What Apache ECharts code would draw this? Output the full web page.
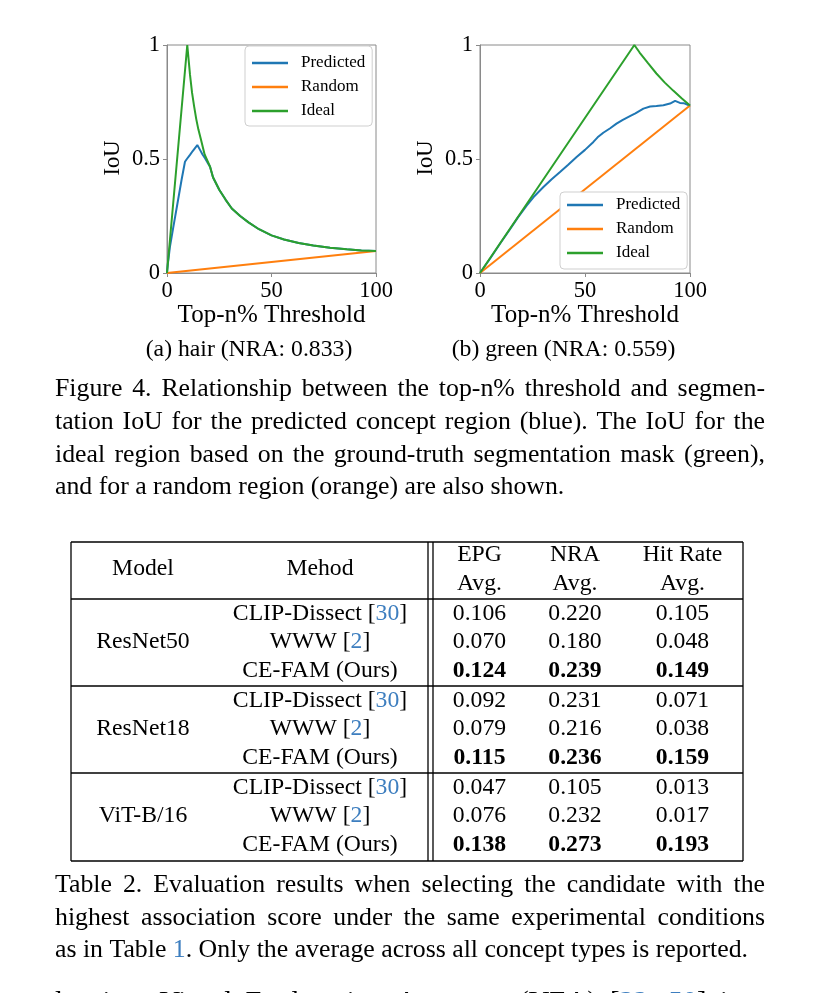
<!DOCTYPE html>
<html>
<head>
<meta charset="utf-8">
<script src="https://cdn.jsdelivr.net/npm/echarts@6.0.0/dist/echarts.min.js"></script>
<style>
  html, body { margin: 0; padding: 0; background: #fff; }
  #main { width: 820px; height: 993px; }
</style>
</head>
<body>
<div id="main"></div>
<script>
// ---------------- DATA ----------------
const seriesNames = ['Predicted', 'Random', 'Ideal'];
const xTicks = [0, 50, 100];
const yTicks = [0, 0.5, 1];

// (a) hair
const hairPredicted = [[0,0],[0.4,0.04],[1.4,0.115],[3,0.2],[5,0.305],[7,0.41],[8.6,0.488],[9.5,0.5],[11,0.518],[12.3,0.535],[13.4,0.548],[14.5,0.561],[15.2,0.553],[15.8,0.54],[17,0.52],[18.2,0.503],[19.5,0.483],[20.6,0.466],[22,0.42],[25,0.365],[28,0.322],[31,0.283],[35,0.25],[39,0.222],[44,0.192],[50,0.165],[56,0.147],[63,0.132],[70,0.121],[78,0.111],[86,0.104],[93,0.099],[100,0.096]];
const hairRandom = [[0,0],[100,0.096]];
const hairIdeal = [[0,0],[9.7,1.0],[11,0.87],[12,0.79],[13,0.73],[14,0.675],[15,0.63],[16.3,0.583],[18,0.52],[20.6,0.466],[22,0.42],[25,0.365],[28,0.322],[31,0.283],[35,0.25],[39,0.222],[44,0.192],[50,0.165],[56,0.147],[63,0.132],[70,0.121],[78,0.111],[86,0.104],[93,0.099],[100,0.096]];

// (b) green
const greenPredicted = [[0,0],[5,0.066],[10,0.135],[14.3,0.192],[18,0.243],[22.2,0.295],[26,0.338],[30.2,0.377],[34,0.41],[38.1,0.443],[42,0.475],[46,0.509],[50,0.54],[54,0.575],[56,0.595],[58.7,0.615],[62,0.635],[65,0.655],[68,0.672],[71.4,0.688],[74,0.7],[77.8,0.721],[81,0.73],[84,0.732],[87.3,0.736],[90.5,0.743],[92.9,0.755],[95.2,0.746],[97,0.745],[100,0.733]];
const greenRandom = [[0,0],[100,0.735]];
const greenIdeal = [[0,0],[73.5,1.0],[76,0.967],[80,0.92],[84,0.875],[88,0.835],[92,0.8],[96,0.766],[100,0.735]];

// Table 2
const tableModels = ['ResNet50', 'ResNet18', 'ViT-B/16'];
const tableMethods = ['CLIP-Dissect [{c|30}]', 'WWW [{c|2}]', 'CE-FAM (Ours)'];
const tableHeaders = [['EPG', 'Avg.'], ['NRA', 'Avg.'], ['Hit Rate', 'Avg.']];
const epgAvg = [[0.106, 0.070, 0.124], [0.092, 0.079, 0.115], [0.047, 0.076, 0.138]];
const nraAvg = [[0.220, 0.180, 0.239], [0.231, 0.216, 0.236], [0.105, 0.232, 0.273]];
const hitAvg = [[0.105, 0.048, 0.149], [0.071, 0.038, 0.159], [0.013, 0.017, 0.193]];

const figCaption = [
  {text: 'Figure 4. Relationship between the top-n% threshold and segmen-', justify: true},
  {text: 'tation IoU for the predicted concept region (blue). The IoU for the', justify: true},
  {text: 'ideal region based on the ground-truth segmentation mask (green),', justify: true},
  {text: 'and for a random region (orange) are also shown.', justify: false}
];
const tableCaption = [
  {text: 'Table 2. Evaluation results when selecting the candidate with the', justify: true},
  {text: 'highest association score under the same experimental conditions', justify: true},
  {text: 'as in Table {c|1}. Only the average across all concept types is reported.', justify: false}
];
const bodyLine = [
  {text: 'lencing. Visual Explanation Accuracy (VEA) [{c|32}, {c|50}] is a', justify: true}
];

// ---------------- STYLE ----------------
const FF = '"Liberation Serif", "Times New Roman", Times, serif';
const BLUE = '#3d7ebf';
const C_BLUE = '#1f77b4', C_ORANGE = '#ff7f0e', C_GREEN = '#2ca02c';
const SPINE = '#8a8a8a';

const chart = echarts.init(document.getElementById('main'), null, {renderer: 'canvas', width: 820, height: 993});

const mctx = document.createElement('canvas').getContext('2d');
function measure(str, size, weight) {
  mctx.font = (weight || 'normal') + ' ' + size + 'px ' + FF;
  return mctx.measureText(str.replace(/\{c\|([^}]*)\}/g, '$1')).width;
}

const graphics = [];
function txt(x, y, text, size, opts) {
  opts = opts || {};
  graphics.push({
    type: 'text', x: x, y: y, rotation: opts.rotation || 0, silent: true,
    style: {
      text: text, fontSize: size, fontFamily: FF, fontWeight: opts.weight || 'normal',
      fill: '#000', align: opts.align || 'center', verticalAlign: 'middle',
      rich: {c: {fill: BLUE, fontSize: size, fontFamily: FF, fontWeight: opts.weight || 'normal'}}
    }
  });
}
function paragraph(lines, x0, x1, y0, lh, size) {
  lines.forEach(function (ln, i) {
    const words = ln.text.split(' ');
    const widths = words.map(function (w) { return measure(w, size); });
    const sum = widths.reduce(function (a, b) { return a + b; }, 0);
    const gap = (ln.justify && words.length > 1) ? (x1 - x0 - sum) / (words.length - 1) : measure(' ', size);
    let x = x0;
    words.forEach(function (w, j) {
      txt(x, y0 + i * lh, w, size, {align: 'left'});
      x += widths[j] + gap;
    });
  });
}
function hline(x1, x2, y) {
  graphics.push({type: 'line', silent: true, shape: {x1: x1, y1: y, x2: x2, y2: y}, style: {stroke: '#000', lineWidth: 1.3}});
}
function vline(x, y1, y2) {
  graphics.push({type: 'line', silent: true, shape: {x1: x, y1: y1, x2: x, y2: y2}, style: {stroke: '#000', lineWidth: 1.3}});
}

// axis titles & sub-captions
txt(271.5, 315, 'Top-n% Threshold', 25);
txt(585, 315, 'Top-n% Threshold', 25);
txt(113, 158, 'IoU', 22.5, {rotation: Math.PI / 2});
txt(426, 158, 'IoU', 22.5, {rotation: Math.PI / 2});
txt(249, 350, '(a) hair (NRA: 0.833)', 23.7);
txt(563.5, 350, '(b) green (NRA: 0.559)', 23.7);

// captions
paragraph(figCaption, 55, 765, 389.5, 32.7, 25.8);
paragraph(tableCaption, 55, 765, 885.5, 32.3, 25.8);
paragraph(bodyLine, 55, 765, 1004, 32, 28.5);

// table
const TL = 71, TR = 743, TT = 542, TH = 599, TB = 861;
const groupSep = [686, 773];
const dbl = [428, 433];
hline(TL, TR, TT); hline(TL, TR, TH); hline(TL, TR, groupSep[0]); hline(TL, TR, groupSep[1]); hline(TL, TR, TB);
vline(TL, TT, TB); vline(dbl[0], TT, TB); vline(dbl[1], TT, TB); vline(TR, TT, TB);
const colModel = 143, colMethod = 320, colVals = [479.5, 575, 682.5];
const TS = 23.7;
txt(colModel, 569, 'Model', TS);
txt(colMethod, 569, 'Mehod', TS);
tableHeaders.forEach(function (h, k) {
  txt(colVals[k], 555, h[0], TS);
  txt(colVals[k], 584, h[1], TS);
});
const groupTop = [613.5, 700.5, 787.5], rowStep = 28.6;
const valueSets = [epgAvg, nraAvg, hitAvg];
tableModels.forEach(function (m, g) {
  txt(colModel, groupTop[g] + rowStep, m, TS);
  tableMethods.forEach(function (meth, r) {
    const y = groupTop[g] + r * rowStep;
    txt(colMethod, y, meth, TS);
    valueSets.forEach(function (vals, k) {
      txt(colVals[k], y, vals[g][r].toFixed(3), TS, {weight: r === 2 ? 'bold' : 'normal'});
    });
  });
});

// ---------------- CHART ----------------
function gridCfg(left, width) {
  return {left: left, top: 45, width: width, height: 228, show: true, borderColor: SPINE, borderWidth: 1, backgroundColor: 'transparent', containLabel: false};
}
function xAxisCfg(i) {
  return {
    gridIndex: i, type: 'value', min: xTicks[0], max: xTicks[xTicks.length - 1], interval: xTicks[1] - xTicks[0],
    axisLine: {show: true, lineStyle: {color: SPINE, width: 1}},
    axisTick: {show: true, length: 4, lineStyle: {color: SPINE, width: 1}},
    splitLine: {show: false},
    axisLabel: {fontSize: 22.5, fontFamily: FF, color: '#000', margin: 7}
  };
}
function yAxisCfg(i) {
  return {
    gridIndex: i, type: 'value', min: yTicks[0], max: yTicks[yTicks.length - 1], interval: yTicks[1] - yTicks[0],
    axisLine: {show: true, lineStyle: {color: SPINE, width: 1}},
    axisTick: {show: true, length: 4, lineStyle: {color: SPINE, width: 1}},
    splitLine: {show: false},
    axisLabel: {fontSize: 22.5, fontFamily: FF, color: '#000', margin: 7, formatter: function (v) { return String(v); }}
  };
}
function lineSeries(name, data, idx, color) {
  return {
    name: name, type: 'line', xAxisIndex: idx, yAxisIndex: idx, data: data,
    showSymbol: false, symbol: 'none', smooth: false,
    lineStyle: {color: color, width: 2}, itemStyle: {color: color},
    emphasis: {disabled: true}
  };
}
function legendCfg(left, top, padding) {
  return {
    data: seriesNames, orient: 'vertical', left: left, top: top, padding: padding,
    itemWidth: 36, itemHeight: 2.5, itemGap: 6, icon: 'rect',
    textStyle: {fontSize: 17, fontFamily: FF, color: '#000', lineHeight: 18, padding: [0, 0, 0, 8]},
    backgroundColor: '#fff', borderColor: '#cfcfcf', borderWidth: 1, borderRadius: 4,
    selectedMode: false
  };
}

const option = {
  backgroundColor: '#fff',
  animation: false,
  grid: [gridCfg(167, 209), gridCfg(480, 210)],
  xAxis: [xAxisCfg(0), xAxisCfg(1)],
  yAxis: [yAxisCfg(0), yAxisCfg(1)],
  legend: [legendCfg(245, 46, [8, 7, 6, 7]), legendCfg(560, 192, [4, 7, 7, 7])],
  series: [
    lineSeries('Predicted', hairPredicted, 0, C_BLUE),
    lineSeries('Random', hairRandom, 0, C_ORANGE),
    lineSeries('Ideal', hairIdeal, 0, C_GREEN),
    lineSeries('Predicted', greenPredicted, 1, C_BLUE),
    lineSeries('Random', greenRandom, 1, C_ORANGE),
    lineSeries('Ideal', greenIdeal, 1, C_GREEN)
  ],
  graphic: {elements: graphics}
};
chart.setOption(option);
</script>
</body>
</html>
